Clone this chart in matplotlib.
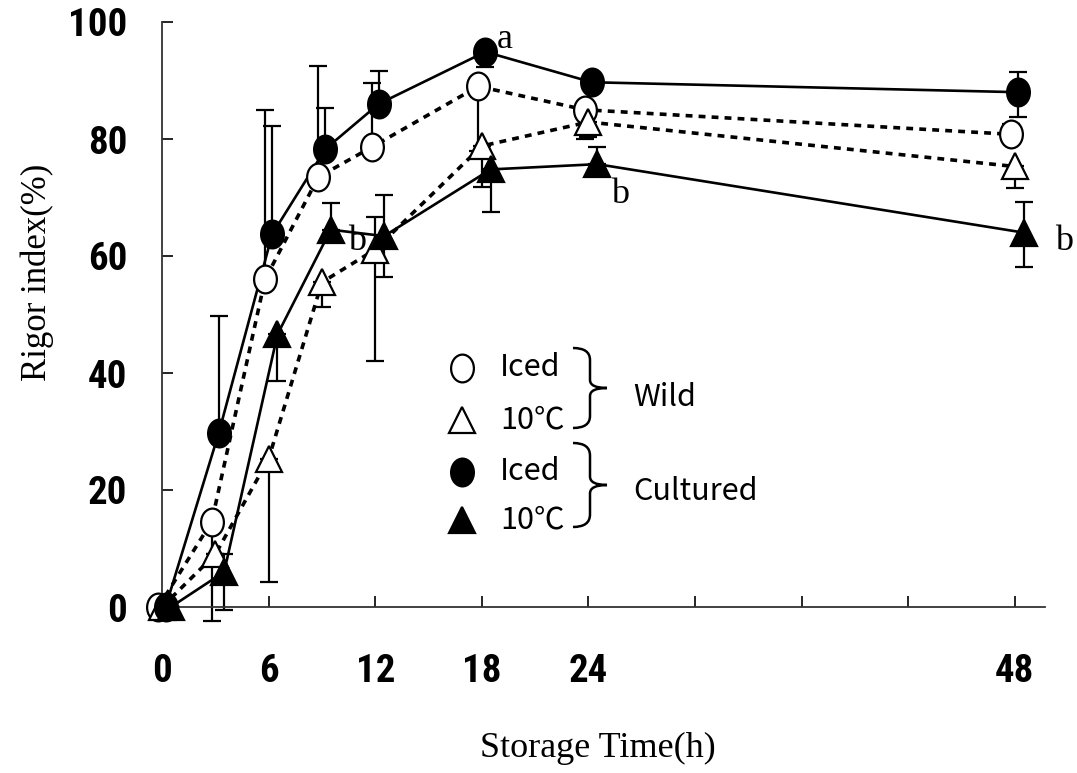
import matplotlib
matplotlib.use('Agg')
import matplotlib.pyplot as plt
from matplotlib import font_manager
from matplotlib.path import Path
from matplotlib.patches import PathPatch
from matplotlib.lines import Line2D
from matplotlib.transforms import Affine2D

# storage time (h)
times = [0, 3, 6, 9, 12, 18, 24, 48]

# rigor index (%)
wild_iced = [0, 14.6, 56, 73.5, 78.6, 89, 85, 80.8]
wild_10c = [0, 9, 25.3, 55.5, 61.1, 78.8, 82.9, 75.3]
cult_iced = [0, 29.8, 63.7, 78.3, 86, 94.9, 89.7, 88]
cult_10c = [0, 6, 46.6, 64.5, 63.4, 74.8, 75.7, 64]

# error bars (lower, upper)
wild_iced_lo = [0, 17, 0, 0, 0, 11, 5, 0]
wild_iced_hi = [0, 0, 29, 19, 11, 1.5, 0, 1.7]
wild_10c_lo = [0, 0, 21, 4.3, 19, 7, 2.5, 3.7]
wild_10c_hi = [0, 0, 0, 0, 5.5, 0, 0, 0]
cult_iced_lo = [0, 0, 0, 0, 0, 2.6, 0, 4.3]
cult_iced_hi = [0, 20, 18.5, 7, 5.6, 0, 0, 3.4]
cult_10c_lo = [0, 6.5, 8, 0, 7, 7.2, 0, 5.8]
cult_10c_hi = [0, 3, 0, 4.5, 7, 0, 3, 5.2]

xticks = [0, 6, 12, 18, 24, 30, 36, 42, 48]
xticklabels = ['0', '6', '12', '18', '24', '', '', '', '48']
yticks = [0, 20, 40, 60, 80, 100]


def pick_narrow():
    fl = font_manager.fontManager.ttflist
    for nm in ['Liberation Sans Narrow', 'Roboto Condensed', 'Open Sans Condensed',
               'Noto Sans Condensed', 'DejaVu Sans Condensed']:
        if any(f.name == nm for f in fl):
            return nm, 'normal', 28
    for f in fl:
        if f.stretch in ('condensed', 'semi-condensed', 'extra-condensed', 'ultra-condensed'):
            return f.name, f.stretch, 28
        if isinstance(f.stretch, int) and f.stretch < 500:
            return f.name, f.stretch, 28
    return 'Liberation Sans', 'normal', 24


narrow, stretch, tick_fs = pick_narrow()
serif = 'Liberation Serif'
cjk = ['Noto Sans CJK JP', 'DejaVu Sans']

W, H = 1077, 773
fig = plt.figure(figsize=(W / 100, H / 100), dpi=100)
fig.patch.set_facecolor('white')
ax = fig.add_axes([162 / W, 1 - 607 / H, (1045 - 162) / W, (607 - 22) / H])

ellipse = Path.unit_circle().transformed(Affine2D().scale(0.82, 1.0))

series = [
    # values, lo, hi, marker, face, line style, dodge (h), size
    (wild_iced, wild_iced_lo, wild_iced_hi, ellipse, 'white', (0, (1.9, 1.7)), -0.2, 20),
    (wild_10c, wild_10c_lo, wild_10c_hi, '^', 'white', (0, (1.9, 1.7)), 0.0, 19),
    (cult_iced, cult_iced_lo, cult_iced_hi, ellipse, 'black', '-', 0.2, 20),
    (cult_10c, cult_10c_lo, cult_10c_hi, '^', 'black', '-', 0.5, 19),
]

for vals, lo, hi, mk, face, ls, dodge, ms in series:
    xs = [t + dodge for t in times]
    ax.errorbar(xs, vals, yerr=[lo, hi], fmt='none', ecolor='black',
                elinewidth=1.6, capsize=6.5, capthick=1.6, zorder=2, clip_on=False)
    lw = 2.6 if ls != '-' else 1.9
    ax.plot(xs, vals, color='black', linestyle=ls, linewidth=lw, zorder=3, clip_on=False)
    ax.plot(xs, vals, linestyle='none', marker=mk, markersize=ms,
            markerfacecolor=face, markeredgecolor='black', markeredgewidth=1.6,
            zorder=4, clip_on=False)

# significance letters
ax.text(19.3, 97, 'a', family=serif, fontsize=26, ha='center', va='center')
ax.text(11.0, 62.5, 'b', family=serif, fontsize=26, ha='center', va='center')
ax.text(25.8, 70.5, 'b', family=serif, fontsize=26, ha='center', va='center')
ax.text(50.8, 62.5, 'b', family=serif, fontsize=26, ha='center', va='center', clip_on=False)

ax.set_xlim(0, 49.7)
ax.set_ylim(0, 100)
ax.set_xticks(xticks)
ax.set_xticklabels(xticklabels)
ax.set_yticks(yticks)
for lab in ax.get_xticklabels() + ax.get_yticklabels():
    lab.set_family(narrow)
    lab.set_fontstretch(stretch)
    lab.set_fontweight('bold')
    lab.set_fontsize(tick_fs)
ax.tick_params(axis='x', direction='in', length=8, width=1.2, pad=33)
ax.tick_params(axis='y', direction='in', length=8, width=1.2, pad=25)
for s in ['top', 'right']:
    ax.spines[s].set_visible(False)
for s in ['left', 'bottom']:
    ax.spines[s].set_linewidth(1.3)
    ax.spines[s].set_color('#333333')

px = Affine2D().scale(1 / W, -1 / H).translate(0, 1) + fig.transFigure

fig.text(37, 272, 'Rigor index(%)', transform=px, family=serif, fontsize=25,
         rotation=90, ha='center', va='center')
fig.text(598, 748, 'Storage Time(h)', transform=px, family=serif, fontsize=26,
         ha='center', va='center')

# legend
legend_rows = [
    (368, ellipse, 'white', 20, 'Iced'),
    (420, '^', 'white', 19, '10℃'),
    (472, ellipse, 'black', 20, 'Iced'),
    (520, '^', 'black', 19, '10℃'),
]
for y, mk, face, ms, label in legend_rows:
    fig.add_artist(Line2D([462], [y], transform=px, marker=mk, markersize=ms,
                          markerfacecolor=face, markeredgecolor='black',
                          markeredgewidth=1.6, linestyle='none'))
    fig.text(500, y, label, transform=px, family=cjk, fontsize=22, ha='left', va='center')


def brace(x0, ytop, ybot, w):
    ym = (ytop + ybot) / 2
    h = ybot - ytop
    xm = x0 + w / 2
    verts = [(x0, ytop), (xm, ytop), (xm, ytop + h * 0.15),
             (xm, ym - h * 0.1), (xm, ym), (x0 + w, ym),
             (xm, ym), (xm, ym + h * 0.1),
             (xm, ybot - h * 0.15), (xm, ybot), (x0, ybot)]
    codes = [Path.MOVETO, Path.CURVE3, Path.CURVE3,
             Path.LINETO, Path.CURVE3, Path.CURVE3,
             Path.CURVE3, Path.CURVE3,
             Path.LINETO, Path.CURVE3, Path.CURVE3]
    fig.add_artist(PathPatch(Path(verts, codes), transform=px, facecolor='none',
                             edgecolor='black', linewidth=1.8))


brace(573, 348, 428, 34)
brace(573, 443, 527, 34)
fig.text(633, 397, 'Wild', transform=px, family=cjk, fontsize=22, ha='left', va='center')
fig.text(633, 492, 'Cultured', transform=px, family=cjk, fontsize=22, ha='left', va='center')

fig.savefig('out.png', dpi=100, facecolor='white')
